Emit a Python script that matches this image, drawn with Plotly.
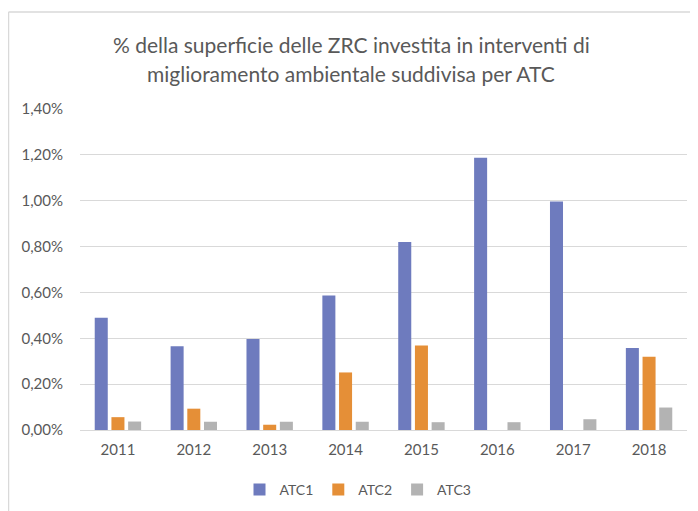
import plotly.graph_objects as go

years = ["2011", "2012", "2013", "2014", "2015", "2016", "2017", "2018"]
atc1 = [0.00490, 0.00365, 0.00397, 0.00587, 0.00820, 0.01187, 0.00997, 0.00358]
atc2 = [0.00056, 0.00093, 0.00023, 0.00251, 0.00369, 0.0, 0.0, 0.00319]
atc3 = [0.00037, 0.00036, 0.00036, 0.00036, 0.00034, 0.00034, 0.00047, 0.00098]
series_names = ["ATC1", "ATC2", "ATC3"]
colors = ["#6E7BBE", "#E58F37", "#B3B3B3"]
title_lines = ["% della superficie delle ZRC investita in interventi di",
               "miglioramento ambientale suddivisa per ATC"]

# The page body adds an 8px margin, so work in figure coordinates
OFF = 8
W, H = 690, 503
L, R, T, B = 80 - OFF, 11, 109 - OFF, 81
ph = H - T - B
pw = W - L - R

def py(p):  # p: screen pixel y
    return (H - B - (p - OFF)) / ph

def px(p):  # p: screen pixel x
    return ((p - OFF) - L) / pw

fig = go.Figure()
for name, vals, c in zip(series_names, [atc1, atc2, atc3], colors):
    fig.add_trace(go.Bar(x=years, y=vals, name=name, marker_color=c,
                         marker_line_width=0))

font = "Lato, 'Open Sans', sans-serif"
fig.update_layout(
    width=W, height=H,
    margin=dict(l=L, r=R, t=T, b=B, autoexpand=False),
    paper_bgcolor="white", plot_bgcolor="white",
    separators=",.",
    barmode="group", bargap=0.34, bargroupgap=0.22,
    font=dict(family=font, color="#595959", size=15),
    showlegend=True,
    legend=dict(orientation="h", x=px(358), xanchor="center", y=py(490),
                yanchor="middle", font=dict(size=14, color="#595959"),
                itemwidth=30, tracegroupgap=0, traceorder="normal"),
    xaxis=dict(type="category", showgrid=False, showline=True,
               linecolor="#D9D9D9", linewidth=1, ticks="",
               ticklabelstandoff=6,
               tickfont=dict(size=15, color="#595959")),
    yaxis=dict(range=[0, 0.014], dtick=0.002, tickformat=".2%",
               showgrid=True, gridcolor="#D9D9D9", gridwidth=1,
               zeroline=False, showline=False, ticks="",
               ticklabelstandoff=16,
               tickfont=dict(size=15, color="#595959")),
)

title_y = [44, 73]
for line, ty in zip(title_lines, title_y):
    fig.add_annotation(text=line, xref="paper", yref="paper",
                       x=px(351), y=py(ty), xanchor="center",
                       yanchor="middle", showarrow=False,
                       font=dict(size=21, color="#595959", family=font))

frame_color = "#D9D9D9"
fig.add_shape(type="line", xref="paper", yref="paper",
              x0=px(8.5), x1=px(698), y0=py(12), y1=py(12),
              line=dict(color=frame_color, width=1.5))
fig.add_shape(type="line", xref="paper", yref="paper",
              x0=px(8.5), x1=px(8.5), y0=py(12), y1=py(511),
              line=dict(color=frame_color, width=1.5))

fig.write_html("out.html")
